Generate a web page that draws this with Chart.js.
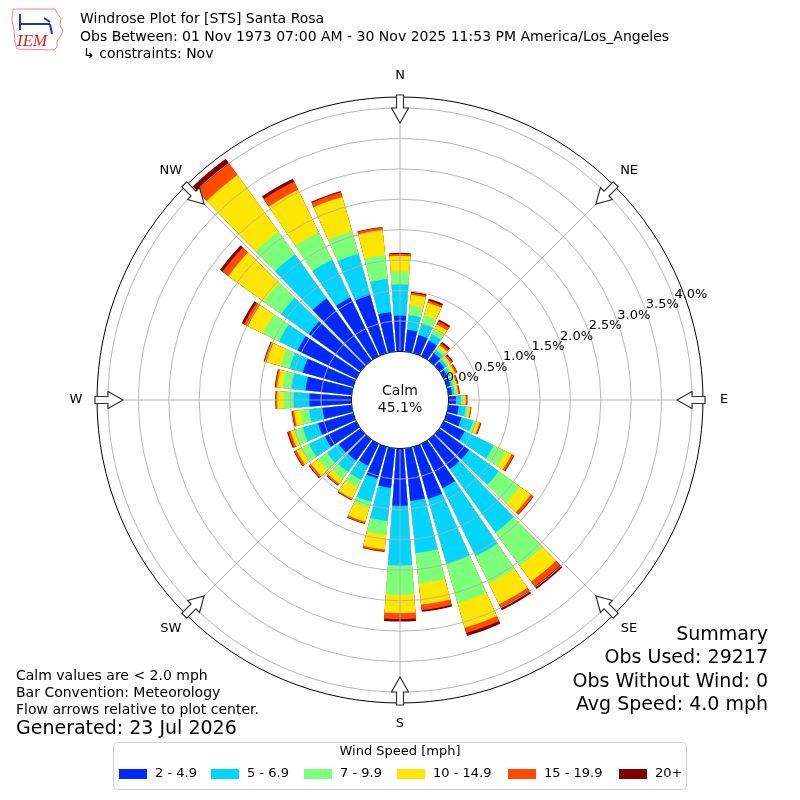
<!DOCTYPE html>
<html>
<head>
<meta charset="utf-8">
<title>Windrose Plot for [STS] Santa Rosa</title>
<script src="https://cdn.jsdelivr.net/npm/chart.js@4/dist/chart.umd.min.js"></script>
<style>
  html, body { margin: 0; padding: 0; background: #fff; }
  #wrap { width: 800px; height: 800px; }
</style>
</head>
<body>
<div id="wrap"><canvas id="windrose" width="800" height="800"></canvas></div>
<script>
// Wind direction (degrees, direction wind blows from)
const directions = [0, 10, 20, 30, 40, 50, 60, 70, 80, 90, 100, 110, 120, 130, 140, 150, 160, 170,
                    180, 190, 200, 210, 220, 230, 240, 250, 260, 270, 280, 290, 300, 310, 320, 330, 340, 350];
const compassLabels = ['N', 'NE', 'E', 'SE', 'S', 'SW', 'W', 'NW'];
const speedBins = ['2 - 4.9', '5 - 6.9', '7 - 9.9', '10 - 14.9', '15 - 19.9', '20+'];

// Percent of observations per direction, one array per speed bin
const speed2to5 = [0.59, 0.36, 0.31, 0.28, 0.15, 0.10, 0.07, 0.06, 0.06, 0.12, 0.17, 0.25,
                   0.38, 0.60, 0.60, 0.81, 0.89, 0.87, 0.94, 0.65, 0.54, 0.40, 0.43, 0.44,
                   0.57, 0.60, 0.48, 0.69, 0.76, 0.86, 1.07, 1.05, 1.26, 1.07, 1.01, 0.65];
const speed5to7 = [0.51, 0.24, 0.20, 0.12, 0.06, 0.05, 0.05, 0.04, 0.04, 0.08, 0.12, 0.20,
                   0.53, 0.60, 1.28, 1.24, 1.11, 0.86, 0.98, 0.55, 0.40, 0.26, 0.23, 0.24,
                   0.29, 0.26, 0.22, 0.26, 0.23, 0.23, 0.34, 0.56, 0.89, 0.69, 0.69, 0.55];
const speed7to10 = [0.21, 0.16, 0.14, 0.08, 0.05, 0.04, 0.04, 0.04, 0.03, 0.04, 0.04, 0.05,
                    0.22, 0.43, 0.68, 0.50, 0.67, 0.50, 0.48, 0.23, 0.11, 0.14, 0.14, 0.18,
                    0.14, 0.14, 0.14, 0.16, 0.15, 0.15, 0.29, 0.35, 0.46, 0.50, 0.38, 0.39];
const speed10to15 = [0.26, 0.18, 0.21, 0.10, 0.05, 0.04, 0.05, 0.03, 0.03, 0.04, 0.03, 0.06,
                     0.11, 0.22, 0.32, 0.38, 0.42, 0.35, 0.30, 0.24, 0.23, 0.20, 0.10, 0.14,
                     0.09, 0.07, 0.11, 0.11, 0.09, 0.24, 0.28, 0.72, 1.15, 0.78, 0.59, 0.42];
const speed15to20 = [0.03, 0.03, 0.04, 0.06, 0.04, 0.03, 0.03, 0.02, 0.02, 0.02, 0.02, 0.02,
                     0.04, 0.05, 0.10, 0.06, 0.09, 0.09, 0.10, 0.03, 0.03, 0.02, 0.03, 0.04,
                     0.04, 0.04, 0.03, 0.02, 0.03, 0.04, 0.07, 0.12, 0.23, 0.15, 0.08, 0.04];
const speed20plus = [0.02, 0.02, 0.03, 0.03, 0.03, 0.02, 0.01, 0.01, 0.01, 0.01, 0.00, 0.01,
                     0.01, 0.01, 0.05, 0.05, 0.05, 0.03, 0.04, 0.01, 0.01, 0.01, 0.01, 0.01,
                     0.01, 0.02, 0.01, 0.01, 0.01, 0.01, 0.04, 0.05, 0.10, 0.05, 0.02, 0.01];

const calmPercent = 45.1;
const obsUsed = 29217;
const obsWithoutWind = 0;
const avgSpeed = 4.0;

const titleLines = [
    'Windrose Plot for [STS] Santa Rosa',
    'Obs Between: 01 Nov 1973 07:00 AM - 30 Nov 2025 11:53 PM America/Los_Angeles',
    '\u21b3 constraints: Nov'
];
const noteLines = ['Calm values are < 2.0 mph', 'Bar Convention: Meteorology', 'Flow arrows relative to plot center.'];
const generatedText = 'Generated: 23 Jul 2026';

const binColors = ['#0028ff', '#00d4ff', '#7cff79', '#ffe600', '#ff4a00', '#800000'];
const BAR_DEG = 8.3;
const GAP_DEG = 10 - BAR_DEG;
const FONT = '"DejaVu Sans", "Liberation Sans", sans-serif';

const speedSeries = [speed2to5, speed5to7, speed7to10, speed10to15, speed15to20, speed20plus];

// bars are stacked: each dataset holds the running total, smaller totals drawn on top
function stackedTotals(k) {
    return directions.map((d, i) => {
        let total = 0;
        for (let j = 0; j <= k; j++) total += speedSeries[j][i];
        return +total.toFixed(3);
    });
}

// every direction gets a bar slot followed by an empty gap slot
function withGaps(values) {
    const out = [];
    values.forEach(v => { out.push(v); out.push(0); });
    return out;
}

const slotLabels = [];
directions.forEach(d => { slotLabels.push(d + '\u00b0'); slotLabels.push(''); });

const datasets = speedSeries.map((series, k) => ({
    label: speedBins[k],
    data: withGaps(stackedTotals(k)),
    rAxisID: 'r',
    borderWidth: 0,
    backgroundColor: (ctx) => ctx.dataIndex % 2 ? 'rgba(0,0,0,0)' : binColors[k],
    angle: (ctx) => ctx.dataIndex % 2 ? GAP_DEG : BAR_DEG
}));

function drawArrow(ctx, cx, cy, outer, deg) {
    const a = deg * Math.PI / 180;
    const ux = Math.sin(a), uy = -Math.cos(a);
    const vx = Math.cos(a), vy = Math.sin(a);
    const pts = [[outer + 2, -3.5], [outer - 11, -3.5], [outer - 11, -8.5], [outer - 26, 0],
                 [outer - 11, 8.5], [outer - 11, 3.5], [outer + 2, 3.5]];
    ctx.beginPath();
    pts.forEach((p, i) => {
        const x = cx + ux * p[0] + vx * p[1];
        const y = cy + uy * p[0] + vy * p[1];
        if (i === 0) ctx.moveTo(x, y); else ctx.lineTo(x, y);
    });
    ctx.closePath();
    ctx.fillStyle = '#fff';
    ctx.fill();
    ctx.lineWidth = 1.2;
    ctx.strokeStyle = '#333';
    ctx.stroke();
}

function drawLogo(ctx) {
    ctx.save();
    ctx.beginPath();
    ctx.moveTo(13, 9);
    ctx.lineTo(55, 9);
    ctx.lineTo(57, 13);
    ctx.lineTo(61, 18);
    ctx.lineTo(60, 25);
    ctx.lineTo(63, 31);
    ctx.lineTo(60, 37);
    ctx.lineTo(57, 41);
    ctx.lineTo(57, 47);
    ctx.lineTo(54, 50);
    ctx.lineTo(17, 49);
    ctx.lineTo(15, 42);
    ctx.lineTo(14, 30);
    ctx.lineTo(12, 20);
    ctx.closePath();
    ctx.strokeStyle = '#e88';
    ctx.lineWidth = 1;
    ctx.stroke();
    ctx.strokeStyle = '#2233cc';
    ctx.lineWidth = 2;
    ctx.beginPath();
    ctx.moveTo(20, 24); ctx.lineTo(50, 24);
    ctx.moveTo(20, 14); ctx.lineTo(20, 30);
    ctx.moveTo(44, 18); ctx.lineTo(50, 22);
    ctx.moveTo(50, 24); ctx.lineTo(52, 34);
    ctx.stroke();
    ctx.fillStyle = '#d22';
    ctx.font = 'italic 17px "Liberation Serif", serif';
    ctx.textAlign = 'left';
    ctx.textBaseline = 'alphabetic';
    ctx.fillText('IEM', 17, 46);
    ctx.restore();
}

const decorPlugin = {
    id: 'windroseDecor',
    beforeDraw(chart) {
        const ctx = chart.ctx;
        ctx.save();
        ctx.fillStyle = '#fff';
        ctx.fillRect(0, 0, chart.width, chart.height);
        ctx.restore();
    },
    afterDraw(chart) {
        const ctx = chart.ctx;
        const scale = chart.scales.r;
        const cx = scale.xCenter, cy = scale.yCenter;
        const outer = scale.drawingArea;
        const calmR = scale.getDistanceFromCenterForValue(0);
        ctx.save();

        // calm circle
        ctx.beginPath();
        ctx.arc(cx, cy, calmR, 0, Math.PI * 2);
        ctx.fillStyle = '#fff';
        ctx.fill();
        ctx.lineWidth = 1;
        ctx.strokeStyle = '#000';
        ctx.stroke();
        ctx.fillStyle = '#111';
        ctx.font = '14px ' + FONT;
        ctx.textAlign = 'center';
        ctx.textBaseline = 'middle';
        ctx.fillText('Calm', cx, cy - 9);
        ctx.fillText(calmPercent.toFixed(1) + '%', cx, cy + 8);

        // radial tick labels
        const la = 70 * Math.PI / 180;
        ctx.font = '13px ' + FONT;
        ctx.textAlign = 'left';
        ctx.textBaseline = 'bottom';
        ctx.fillStyle = '#000';
        scale.ticks.forEach(t => {
            if (t.value < 0) return;
            const d = scale.getDistanceFromCenterForValue(t.value);
            ctx.fillText(t.value.toFixed(1) + '%', cx + d * Math.sin(la), cy - d * Math.cos(la) + 1);
        });

        // compass arrows and labels
        compassLabels.forEach((lab, i) => {
            const deg = i * 45;
            drawArrow(ctx, cx, cy, outer, deg);
            const a = deg * Math.PI / 180;
            ctx.fillStyle = '#000';
            ctx.font = '13px ' + FONT;
            ctx.textAlign = 'center';
            ctx.textBaseline = 'middle';
            ctx.fillText(lab, cx + (outer + 21) * Math.sin(a), cy - (outer + 21) * Math.cos(a));
        });

        // header
        drawLogo(ctx);
        ctx.fillStyle = '#000';
        ctx.font = '14px ' + FONT;
        ctx.textAlign = 'left';
        ctx.textBaseline = 'middle';
        ctx.fillText(titleLines[0], 80, 19);
        ctx.fillText(titleLines[1], 80, 37);
        ctx.fillText(titleLines[2], 83, 54);

        // notes bottom left
        ctx.font = '14px ' + FONT;
        noteLines.forEach((t, i) => ctx.fillText(t, 16, 676 + i * 17));
        ctx.font = '19px ' + FONT;
        ctx.fillText(generatedText, 16, 729);

        // summary bottom right
        ctx.textAlign = 'right';
        ctx.font = '19px ' + FONT;
        const summary = ['Summary', 'Obs Used: ' + obsUsed, 'Obs Without Wind: ' + obsWithoutWind,
                         'Avg Speed: ' + avgSpeed.toFixed(1) + ' mph'];
        summary.forEach((t, i) => ctx.fillText(t, 768, 635 + i * 23.4));

        // legend
        ctx.beginPath();
        ctx.roundRect(113.5, 742.5, 573, 47, 4);
        ctx.fillStyle = 'rgba(255,255,255,0.85)';
        ctx.fill();
        ctx.strokeStyle = '#d0d0d0';
        ctx.lineWidth = 1;
        ctx.stroke();
        ctx.fillStyle = '#000';
        ctx.font = '13px ' + FONT;
        ctx.textAlign = 'center';
        ctx.fillText('Wind Speed [mph]', 400, 752);
        const swatchX = [119, 211, 304, 397, 508, 619];
        ctx.textAlign = 'left';
        chart.data.datasets.forEach((ds, k) => {
            ctx.fillStyle = binColors[k];
            ctx.fillRect(swatchX[k], 769, 28, 10);
            ctx.fillStyle = '#000';
            ctx.fillText(ds.label, swatchX[k] + 36, 774);
        });
        ctx.restore();
    }
};

new Chart(document.getElementById('windrose'), {
    type: 'polarArea',
    data: { labels: slotLabels, datasets: datasets },
    options: {
        responsive: false,
        animation: false,
        events: [],
        layout: { padding: 97 },
        plugins: { legend: { display: false }, tooltip: { enabled: false } },
        scales: {
            r: {
                type: 'radialLinear',
                axis: 'r',
                startAngle: -BAR_DEG / 2,
                min: -0.8,
                max: 4.18,
                ticks: { display: false, stepSize: 0.5, includeBounds: false, z: 1 },
                grid: {
                    circular: true,
                    z: 1,
                    lineWidth: 0.9,
                    color: (ctx) => (ctx.tick && ctx.tick.value >= 0) ? '#b0b0b0' : 'rgba(0,0,0,0)'
                },
                angleLines: { display: false },
                pointLabels: { display: false }
            },
            compass: {
                type: 'radialLinear',
                axis: 'r',
                labels: compassLabels,
                startAngle: 0,
                min: 0,
                max: 1,
                ticks: { display: false, stepSize: 1, z: 1 },
                grid: {
                    circular: true,
                    z: 1,
                    lineWidth: 1,
                    color: (ctx) => (ctx.tick && ctx.tick.value === 1) ? '#000' : 'rgba(0,0,0,0)'
                },
                angleLines: { display: true, color: '#b0b0b0', lineWidth: 0.9 },
                pointLabels: { display: false }
            }
        }
    },
    plugins: [decorPlugin]
});
</script>
</body>
</html>
